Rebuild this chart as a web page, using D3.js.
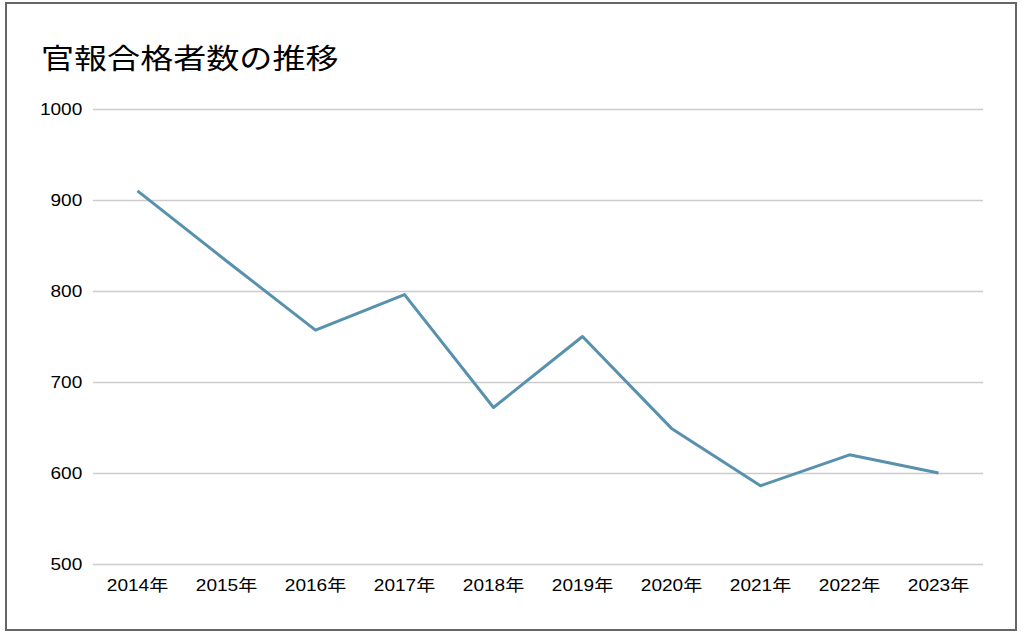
<!DOCTYPE html>
<html>
<head>
<meta charset="utf-8">
<script src="https://cdn.jsdelivr.net/npm/d3@7"></script>
<style>
  body { margin: 0; background: #fff; }
  svg text { font-family: "Liberation Sans", Arial, "Noto Sans CJK JP", sans-serif; fill: #000; }
</style>
</head>
<body>
<svg id="chart" width="1021" height="634"></svg>
<script>
// 官報合格者数（読み取り値）
const years = ["2014年", "2015年", "2016年", "2017年", "2018年", "2019年", "2020年", "2021年", "2022年", "2023年"];
const passers = [910, 833, 757, 796, 672, 750, 649, 586, 620, 600];
const yTicks = [500, 600, 700, 800, 900, 1000];

// the reference text is a bit wide, so stretch it horizontally
const stretch = 1.19;

function draw(el) {
    let svg    = d3.select(el),
        margin = {top: 109, right: 38, bottom: 70, left: 93},
        width  = +svg.attr("width") - margin.left - margin.right,
        height = +svg.attr("height") - margin.top - margin.bottom;

    // frame
    svg.append("rect")
       .attr("x", 6).attr("y", 3)
       .attr("width", 1010).attr("height", 627)
       .attr("fill", "#fff")
       .attr("stroke", "#666")
       .attr("stroke-width", 2);

    svg.append("text")
       .attr("transform", "translate(41,69) scale(1.16,1)")
       .attr("font-size", 28.5)
       .style("font-family", "'Noto Sans CJK JP', sans-serif")
       .text("官報合格者数の推移");

    let g = svg.append("g").attr("transform", `translate(${margin.left},${margin.top})`);

    let x = d3.scaleBand().domain(years).range([0, width]);
    let y = d3.scaleLinear().domain([500, 1000]).range([height, 0]);

    // grid + y labels
    g.append("g")
     .call(d3.axisLeft(y).tickValues(yTicks).tickFormat(d3.format("d")).tickSize(-width).tickPadding(9))
     .call(a => a.select(".domain").remove())
     .call(a => a.selectAll("line").attr("stroke", "#cccccc").attr("stroke-width", 1.3))
     .call(a => a.selectAll("text").attr("font-size", 16).attr("fill", "#000")
                 .attr("transform", `scale(${stretch},1)`));

    // x labels
    g.append("g")
     .attr("transform", `translate(0,${height})`)
     .call(d3.axisBottom(x).tickSize(0).tickPadding(16))
     .call(a => a.select(".domain").remove())
     .call(a => a.selectAll("text").attr("font-size", 16).attr("fill", "#000")
                 .attr("transform", `scale(${stretch},1)`)
                 .style("font-family", "'Liberation Sans', 'Noto Sans CJK JP', sans-serif"));

    let line = d3.line()
                 .x((d, i) => x(years[i]) + x.bandwidth() / 2)
                 .y(d => y(d));

    g.append("path")
     .datum(passers)
     .attr("fill", "none")
     .attr("stroke", "#5891ad")
     .attr("stroke-width", 3)
     .attr("stroke-linejoin", "round")
     .attr("d", line);
}

draw("#chart");
</script>
</body>
</html>
